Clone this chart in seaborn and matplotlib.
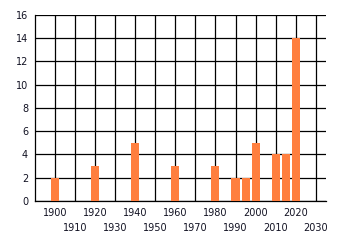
import matplotlib
matplotlib.use("Agg")
import matplotlib.pyplot as plt
import seaborn as sns
import pandas as pd

years = [1900, 1920, 1940, 1960, 1980, 1990, 1995, 2000, 2010, 2015, 2020]
counts = [2, 3, 5, 3, 3, 2, 2, 5, 4, 4, 14]
major_ticks = [1900, 1920, 1940, 1960, 1980, 2000, 2020]
minor_ticks = [1910, 1930, 1950, 1970, 1990, 2010, 2030]
y_ticks = [0, 2, 4, 6, 8, 10, 12, 14, 16]

sns.set_style("white")
plt.rcParams['font.family'] = ['DejaVu Sans']

df = pd.DataFrame({"year": years, "count": counts})

fig = plt.figure(figsize=(3.4, 2.45), dpi=100)
ax = fig.add_axes([0.103, 0.18, 0.855, 0.759])

sns.barplot(data=df, x="year", y="count", native_scale=True, width=0.8,
            color="#FF7F3F", saturation=1, linewidth=0, edgecolor="none",
            ax=ax, zorder=3)

ax.set_xlim(1890, 2035)
ax.set_ylim(0, 16)
ax.set_yticks(y_ticks)
ax.set_yticklabels([str(v) for v in y_ticks])
ax.set_xticks(major_ticks)
ax.set_xticklabels([str(v) for v in major_ticks])
ax.set_xticks(minor_ticks, minor=True)
ax.set_xticklabels([str(v) for v in minor_ticks], minor=True)

ax.grid(True, which="both", color="black", linewidth=0.9, zorder=0)
ax.set_axisbelow(True)

ax.tick_params(axis="both", which="both", direction="out", length=3, width=0.9,
               color="black", labelsize=7, labelcolor="#111122")
ax.tick_params(axis="x", which="major", pad=2)
ax.tick_params(axis="x", which="minor", pad=13)
ax.tick_params(axis="y", pad=2)

for s in ["top", "right"]:
    ax.spines[s].set_visible(False)
for s in ["left", "bottom"]:
    ax.spines[s].set_color("black")
    ax.spines[s].set_linewidth(0.9)

ax.set_xlabel("")
ax.set_ylabel("")

fig.savefig("out.png", dpi=100)
